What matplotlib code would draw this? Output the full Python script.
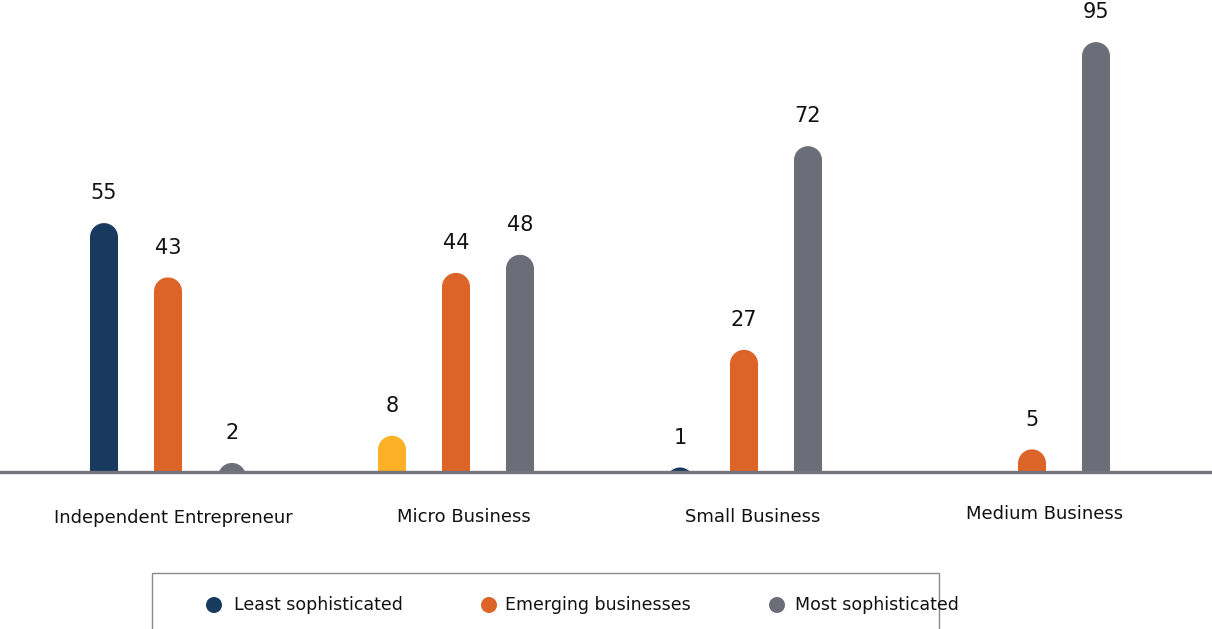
import matplotlib
matplotlib.use("Agg")
import matplotlib.pyplot as plt
from matplotlib.patches import Rectangle, Ellipse

categories = ["Independent Entrepreneur", "Micro Business", "Small Business", "Medium Business"]
series_names = ["Least sophisticated", "Emerging businesses", "Most sophisticated"]
least = [55, 8, 1, 0]
emerging = [43, 44, 27, 5]
most = [2, 48, 72, 95]

navy = "#173a5e"
orange = "#dc6429"
gray = "#6b6d78"
yellow = "#fcb025"
series_colors = [navy, orange, gray]
# per-bar colours (the micro-business "least" bar is highlighted)
bar_colors = [
    [navy, yellow, navy, navy],
    [orange, orange, orange, orange],
    [gray, gray, gray, gray],
]

plt.rcParams["font.family"] = ["DejaVu Sans"]

W, H = 1212, 629
fig = plt.figure(figsize=(W / 100, H / 100), dpi=100)
base_px = 472
ax = fig.add_axes([0, (H - base_px) / H, 1, base_px / H])
ax.set_axis_off()

group_px = 288.0
first_px = 168.0
ax.set_xlim(-first_px / group_px, (W - first_px) / group_px)
ax.set_ylim(0, 104.3)

offset = 64.0 / group_px
width = 28.0 / group_px

# vertical radius of the rounded caps, expressed in data units
px_per_unit = base_px / 104.3
r_y = (width * group_px / 2) / px_per_unit

values = [least, emerging, most]
for s, vals in enumerate(values):
    for g, v in enumerate(vals):
        if v <= 0:
            continue
        x = g + (s - 1) * offset
        body = max(v - r_y, 0)
        if body > 0:
            ax.add_patch(Rectangle((x - width / 2, 0), width, body,
                                   color=bar_colors[s][g], lw=0))
        ax.add_patch(Ellipse((x, v - r_y), width, 2 * r_y,
                             color=bar_colors[s][g], lw=0))
        ax.annotate(str(v), (x, v), xytext=(0, 21.5), textcoords="offset points",
                    ha="center", va="center", fontsize=15, color="#111111")

# baseline
ax.axhline(0, color="#72737d", lw=2.4, clip_on=False, zorder=5)

# category labels (slightly right of each group centre)
label_dx = [5, 8, 9, 13]
label_y = [518, 517, 517, 514]
for g, name in enumerate(categories):
    fig.text((first_px + group_px * g + label_dx[g]) / W, 1 - label_y[g] / H, name,
             ha="center", va="center", fontsize=13, color="#111111")

# legend frame and entries
fig.patches.append(Rectangle((152 / W, -0.05), (939 - 152) / W, 0.05 + (629 - 573) / H,
                             transform=fig.transFigure, fill=False,
                             edgecolor="#8a8a8a", lw=1.0))
leg_y = 1 - 605 / H
dot_px = [214, 489, 777]
text_px = [234, 505, 795]
for i, name in enumerate(series_names):
    fig.patches.append(Ellipse((dot_px[i] / W, leg_y), 16 / W, 16 / H,
                               transform=fig.transFigure, color=series_colors[i], lw=0))
    fig.text(text_px[i] / W, leg_y, name, ha="left", va="center",
             fontsize=12.5, color="#111111")

fig.savefig("out.png", dpi=100)
